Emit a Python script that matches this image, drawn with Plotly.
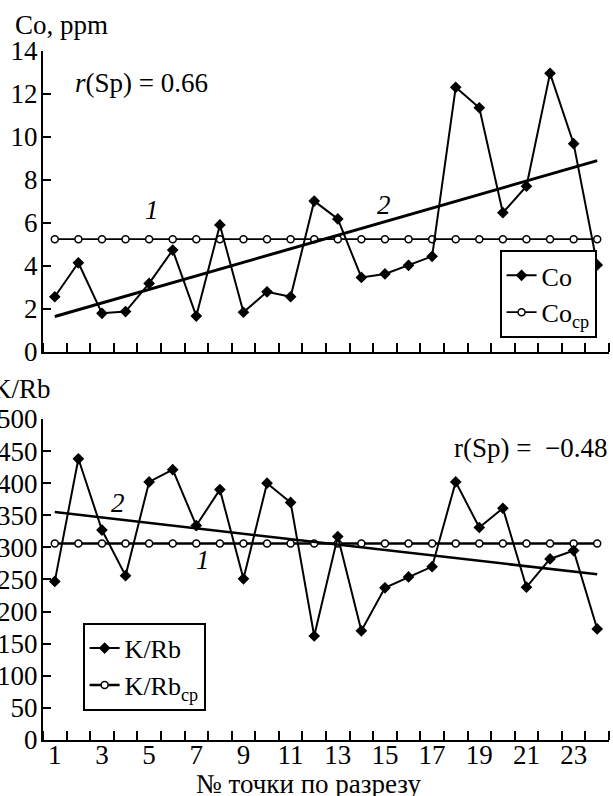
import plotly.graph_objects as go

points = list(range(1, 25))
co = [2.57, 4.15, 1.80, 1.88, 3.19, 4.74, 1.67, 5.91, 1.85, 2.80, 2.57, 7.02,
      6.19, 3.47, 3.63, 4.03, 4.45, 12.31, 11.36, 6.48, 7.71, 12.96, 9.69, 4.05]
co_mean = [5.25] * 24
co_trend_x = [1, 24]
co_trend = [1.65, 8.9]

krb = [247, 438, 327, 256, 402, 421, 334, 390, 251, 400, 370, 162,
       317, 170, 237, 254, 270, 402, 331, 361, 238, 282, 295, 173]
krb_mean = [306] * 24
krb_trend_x = [1, 24]
krb_trend = [355, 258]

x_labels = [1, 3, 5, 7, 9, 11, 13, 15, 17, 19, 21, 23]
x_minor = [i + 0.5 for i in range(0, 25)]

FONT = "Liberation Serif, Times New Roman, serif"
FS = 27
LFS = 26

fig = go.Figure()

# top panel
fig.add_trace(go.Scatter(x=points, y=co_mean, mode="lines+markers", name="Co<sub>cp</sub>",
                         line=dict(color="black", width=1.6),
                         marker=dict(symbol="circle", size=7, color="white", line=dict(color="black", width=1.5)),
                         xaxis="x", yaxis="y", legend="legend"))
fig.add_trace(go.Scatter(x=co_trend_x, y=co_trend, mode="lines", showlegend=False,
                         line=dict(color="black", width=3), xaxis="x", yaxis="y"))
fig.add_trace(go.Scatter(x=points, y=co, mode="lines+markers", name="Co",
                         line=dict(color="black", width=2),
                         marker=dict(symbol="diamond", size=9, color="black"),
                         xaxis="x", yaxis="y", legend="legend"))

# bottom panel
fig.add_trace(go.Scatter(x=points, y=krb_mean, mode="lines+markers", name="K/Rb<sub>cp</sub>",
                         line=dict(color="black", width=2.5),
                         marker=dict(symbol="circle", size=7, color="white", line=dict(color="black", width=1.5)),
                         xaxis="x2", yaxis="y2", legend="legend2"))
fig.add_trace(go.Scatter(x=krb_trend_x, y=krb_trend, mode="lines", showlegend=False,
                         line=dict(color="black", width=2.5), xaxis="x2", yaxis="y2"))
fig.add_trace(go.Scatter(x=points, y=krb, mode="lines+markers", name="K/Rb",
                         line=dict(color="black", width=2),
                         marker=dict(symbol="diamond", size=9, color="black"),
                         xaxis="x2", yaxis="y2", legend="legend2"))

xcommon = dict(range=[0.5, 24.5], showline=True, linecolor="black", linewidth=2,
               showgrid=False, zeroline=False, ticks="", tickmode="array", tickvals=x_labels,
               ticktext=[str(v) for v in x_labels], ticklabelstandoff=-10,
               minor=dict(tickmode="array", tickvals=x_minor, ticks="inside", ticklen=9,
                          tickwidth=2, tickcolor="black", showgrid=False),
               tickfont=dict(family=FONT, size=FS, color="black"))
ycommon = dict(showline=True, linecolor="black", linewidth=2, showgrid=False, zeroline=False,
               ticks="inside", ticklen=8, tickwidth=2, tickcolor="black", ticklabelstandoff=-2,
               tickfont=dict(family=FONT, size=FS, color="black"), automargin=False)

top_dom = [0.5631, 1.0]
bot_dom = [0.0, 0.4659]

fig.update_layout(
    width=613, height=796,
    margin=dict(l=43, r=4, t=51, b=56),
    paper_bgcolor="white", plot_bgcolor="white",
    font=dict(family=FONT, size=FS, color="black"),
    xaxis=dict(**xcommon, anchor="y", showticklabels=False),
    yaxis=dict(**ycommon, domain=top_dom, range=[0, 14], tickvals=[0, 2, 4, 6, 8, 10, 12, 14], anchor="x"),
    xaxis2=dict(**xcommon, anchor="y2", showticklabels=True),
    yaxis2=dict(**ycommon, domain=bot_dom, range=[0, 500],
                tickvals=[0, 50, 100, 150, 200, 250, 300, 350, 400, 450, 500], anchor="x2"),
    legend=dict(x=0.978, y=0.5835, xanchor="right", yanchor="bottom", bgcolor="white",
                bordercolor="black", borderwidth=2, font=dict(family=FONT, size=LFS, color="black"),
                traceorder="reversed", itemwidth=30, tracegroupgap=0),
    legend2=dict(x=0.070, y=0.0425, xanchor="left", yanchor="bottom", bgcolor="white",
                 bordercolor="black", borderwidth=2, font=dict(family=FONT, size=LFS, color="black"),
                 traceorder="reversed", itemwidth=30, tracegroupgap=0),
    showlegend=True,
)

ann_font = dict(family=FONT, size=FS, color="black")
annotations = [
    dict(text="Co, ppm", xref="paper", yref="paper", x=(13 - 43) / 566, y=1 + (51 - 25) / 689,
         xanchor="left", yanchor="middle", showarrow=False, font=ann_font),
    dict(text="K/Rb", xref="paper", yref="paper", x=(53 - 43) / 566, y=(740 - 389) / 689,
         xanchor="right", yanchor="middle", showarrow=False, font=ann_font),
    dict(text="<i>r</i>(Sp) = 0.66", xref="x", yref="y", x=1.79, y=12.5,
         xanchor="left", yanchor="middle", showarrow=False, font=ann_font),
    dict(text="r(Sp) =\u00a0 \u22120.48", xref="paper", yref="y2", x=1.0, y=455,
         xanchor="right", yanchor="middle", showarrow=False, font=ann_font),
    dict(text="<i>1</i>", xref="x", yref="y", x=5.13, y=6.6, showarrow=False, font=ann_font),
    dict(text="<i>2</i>", xref="x", yref="y", x=14.94, y=6.84, showarrow=False, font=ann_font),
    dict(text="<i>2</i>", xref="x2", yref="y2", x=3.7, y=369, showarrow=False, font=ann_font),
    dict(text="<i>1</i>", xref="x2", yref="y2", x=7.3, y=280, showarrow=False, font=ann_font),
    dict(text="№ точки по разрезу", xref="paper", yref="paper", x=(308 - 43) / 566,
         y=(740 - 784) / 689, xanchor="center", yanchor="middle", showarrow=False, font=ann_font),
]
fig.update_layout(annotations=annotations)

fig.write_html("out.html", config={"displayModeBar": False},
               post_script="document.body.style.margin='0';document.body.style.overflow='hidden';")
